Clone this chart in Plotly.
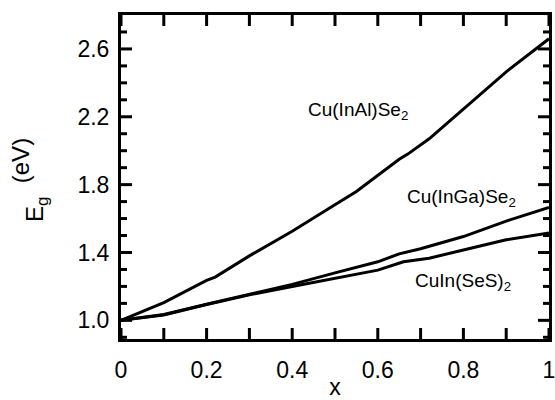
import plotly.graph_objects as go

# Band gap vs composition x for three chalcopyrite alloys
x_inal = [0, 0.1, 0.2, 0.22, 0.3, 0.4, 0.48, 0.55, 0.65, 0.67, 0.72, 0.8, 0.9, 1.0]
eg_inal = [1.0, 1.105, 1.235, 1.255, 1.38, 1.525, 1.65, 1.76, 1.95, 1.98, 2.07, 2.245, 2.465, 2.66]

x_inga = [0, 0.1, 0.2, 0.3, 0.4, 0.5, 0.6, 0.65, 0.7, 0.8, 0.9, 1.0]
eg_inga = [1.0, 1.035, 1.095, 1.155, 1.212, 1.28, 1.345, 1.392, 1.422, 1.494, 1.585, 1.665]

x_ses = [0, 0.1, 0.2, 0.3, 0.4, 0.5, 0.6, 0.66, 0.72, 0.8, 0.9, 1.0]
eg_ses = [1.0, 1.032, 1.093, 1.15, 1.2, 1.25, 1.296, 1.345, 1.366, 1.415, 1.475, 1.515]

x_tickvals = [0, 0.1, 0.2, 0.3, 0.4, 0.5, 0.6, 0.7, 0.8, 0.9, 1.0]
x_ticktext = ["0", " ", "0.2", " ", "0.4", " ", "0.6", " ", "0.8", " ", "1"]
y_tickvals = [1.0, 1.4, 1.8, 2.2, 2.6]
y_ticktext = ["1.0", "1.4", "1.8", "2.2", "2.6"]
y_minorvals = [0.9, 1.1, 1.2, 1.3, 1.5, 1.6, 1.7, 1.9, 2.0,
               2.1, 2.3, 2.4, 2.5, 2.7]

X_RANGE = [0, 1]
Y_RANGE = [0.89, 2.8]
FONT = "Liberation Sans, Arial, sans-serif"

W, H = 555, 400
M_L, M_R, M_T, M_B = 121, 6, 15, 61
PLOT_W = W - M_L - M_R
PLOT_H = H - M_T - M_B
MAJOR_LEN, MINOR_LEN = 11, 6

# data units per pixel, used to size the inward tick strokes
DX = (X_RANGE[1] - X_RANGE[0]) / PLOT_W
DY = (Y_RANGE[1] - Y_RANGE[0]) / PLOT_H

fig = go.Figure()
for xs, ys in [(x_inal, eg_inal), (x_inga, eg_inga), (x_ses, eg_ses)]:
    fig.add_trace(go.Scatter(x=xs, y=ys, mode="lines",
                             line=dict(color="black", width=3),
                             showlegend=False, hoverinfo="skip"))

# inward tick strokes on all four sides, built as one broken line trace
tx, ty = [], []
for xv in x_tickvals:
    tx += [xv, xv, None, xv, xv, None]
    ty += [Y_RANGE[0], Y_RANGE[0] + MAJOR_LEN * DY, None,
           Y_RANGE[1], Y_RANGE[1] - MAJOR_LEN * DY, None]
for vals, length in [(y_tickvals, MAJOR_LEN), (y_minorvals, MINOR_LEN)]:
    for yv in vals:
        tx += [X_RANGE[0], X_RANGE[0] + length * DX, None,
               X_RANGE[1], X_RANGE[1] - length * DX, None]
        ty += [yv, yv, None, yv, yv, None]
fig.add_trace(go.Scatter(x=tx, y=ty, mode="lines", connectgaps=False,
                         line=dict(color="black", width=3),
                         showlegend=False, hoverinfo="skip"))

labels = [
    ("Cu(InAl)Se<sub>2</sub>", 0.553, 2.235),
    ("Cu(InGa)Se<sub>2</sub>", 0.795, 1.72),
    ("CuIn(SeS)<sub>2</sub>", 0.80, 1.225),
]
for text, ax_, ay_ in labels:
    fig.add_annotation(x=ax_, y=ay_, text=text, showarrow=False,
                       font=dict(family=FONT, size=19, color="black"))

# y-axis title drawn as two rotated pieces
fig.add_annotation(xref="paper", yref="paper", x=-0.197, y=0.40,
                   xanchor="center", yanchor="middle",
                   text="E<sub>g</sub>", textangle=-90, showarrow=False,
                   font=dict(family=FONT, size=24, color="black"))
fig.add_annotation(xref="paper", yref="paper", x=-0.235, y=0.55,
                   xanchor="center", yanchor="middle",
                   text="(eV)", textangle=-90, showarrow=False,
                   font=dict(family=FONT, size=24, color="black"))

frame = dict(showline=True, linecolor="black", linewidth=3, mirror=True,
             ticks="", showgrid=False, zeroline=False, automargin=False)

fig.update_layout(
    width=W, height=H,
    margin=dict(l=M_L, r=M_R, t=M_T, b=M_B),
    plot_bgcolor="white", paper_bgcolor="white",
    font=dict(family=FONT, color="black"),
    xaxis=dict(
        range=X_RANGE, tickmode="array", tickvals=x_tickvals, ticktext=x_ticktext,
        tickfont=dict(family=FONT, size=23, color="black"),
        ticklabelstandoff=8, ticklabeloverflow="allow",
        title=dict(text="x", font=dict(family=FONT, size=23, color="black"), standoff=8),
        **frame,
    ),
    yaxis=dict(
        range=Y_RANGE, tickmode="array", tickvals=y_tickvals, ticktext=y_ticktext,
        tickfont=dict(family=FONT, size=23, color="black"),
        ticklabelstandoff=4,
        **frame,
    ),
)

fig.write_html("out.html")
